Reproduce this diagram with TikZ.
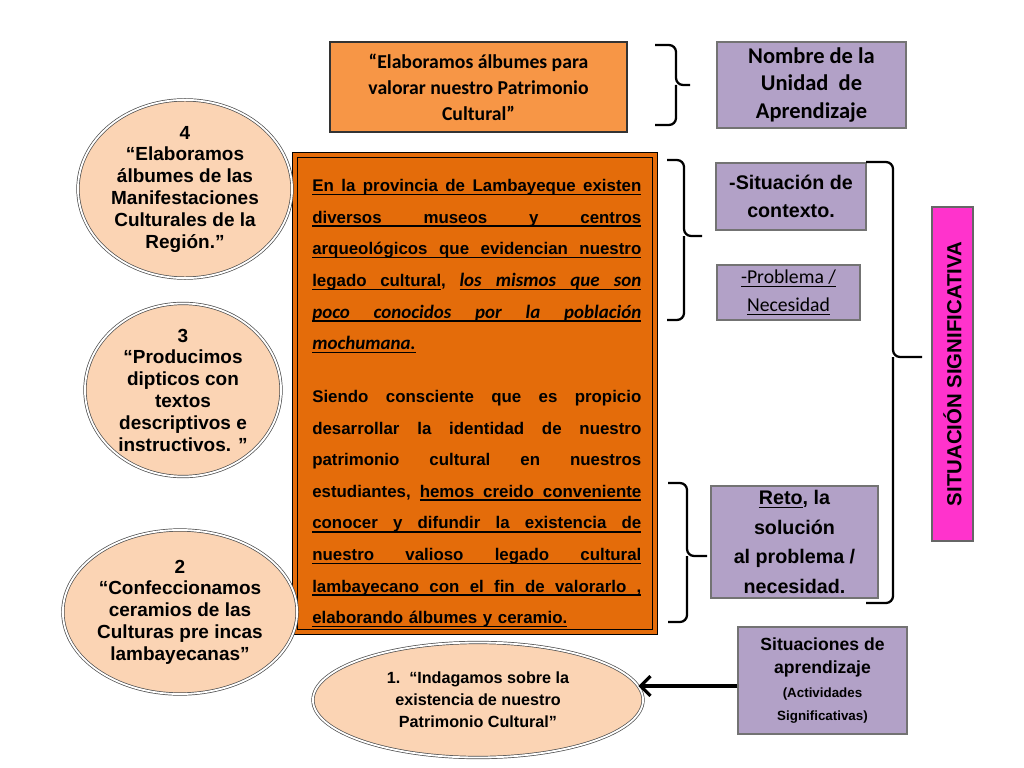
\documentclass[tikz,border=0pt]{standalone}
\usepackage{fontspec}
\setmainfont{Liberation Sans}
\newfontfamily\calibri{Carlito}
\usepackage{tikz}
\usetikzlibrary{arrows.meta, shapes.geometric}
\definecolor{naranja}{RGB}{247,150,70}
\definecolor{naranjaosc}{RGB}{228,108,10}
\definecolor{lila}{RGB}{178,161,199}
\definecolor{durazno}{RGB}{251,212,180}
\definecolor{fucsia}{RGB}{255,51,204}
\newlength{\anchotexto}\setlength{\anchotexto}{8.225cm}
\newsavebox{\cajapal}
% subrayado de palabras y de lineas completas
\newcommand{\uw}[1]{\leavevmode\sbox{\cajapal}{#1}\rlap{\vrule height -1.5pt depth 2.5pt width \wd\cajapal}\usebox{\cajapal}}
\newcommand{\us}{\leaders\hrule height -1.5pt depth 2.5pt\hskip .3em plus 1fil\relax}
\newcommand{\ns}{\hskip .3em plus 1fil\relax}
\newcommand{\jl}[1]{\leavevmode\hbox to \anchotexto{\spaceskip=.3em plus 1fil\relax #1}}
\newcommand{\lineamix}[1]{\leavevmode\hbox to \anchotexto{#1}}
\newcommand{\lineasub}[1]{\leavevmode\rlap{\vrule height -1.5pt depth 2.5pt width \anchotexto}\jl{#1}}
\newcommand{\cursiva}{\calibri\itshape\fontsize{13.5}{22.5}\selectfont}

\begin{document}
\begin{tikzpicture}[x=0.025cm, y=-0.025cm,
  caja/.style={rectangle, fill=lila, draw=black!55, line width=0.8pt, align=center, inner sep=0pt},
  burbuja/.style={ellipse, fill=durazno, draw=black!70, line width=0.5pt, double=white, double distance=1.3pt, align=center, inner sep=0pt, font=\bfseries\fontsize{13.5}{15.5}\selectfont},
  llave/.style={line width=1.6pt, rounded corners=5pt}]
\useasboundingbox (0,0) rectangle (1024,768);
% titulo de la unidad
\node[rectangle, fill=naranja, draw=black!80, line width=1.5pt, minimum width=7.425cm, minimum height=2.25cm, align=center, inner sep=0pt, font=\calibri\bfseries\fontsize{14}{18.5}\selectfont] (titulo) at (478.5,87) {“Elaboramos álbumes para\\valorar nuestro Patrimonio\\Cultural”};
\node[caja, minimum width=4.725cm, minimum height=2.15cm, font=\calibri\bfseries\fontsize{16}{19.5}\selectfont] (nombre) at (811.5,85) {Nombre de la\\Unidad\ \ de\\Aprendizaje};
\draw[llave] (655,45) -| (676,85) -- (690,85);
\draw[llave] (655,125) -| (676,85);
% situacion significativa
\node[rectangle, fill=naranjaosc, draw=black, line width=1pt, double=naranjaosc, double distance=2.5pt, minimum width=9cm, minimum height=11.925cm] (situacion) at (475,393.5) {};
\node[anchor=north west, text width=8.225cm, align=left, inner sep=0pt, font=\bfseries\fontsize{12}{22.5}\selectfont] (texto) at (312,179) {%
\lineasub{En la provincia de Lambayeque existen}\\
\lineasub{diversos museos y centros}\\
\lineasub{arqueológicos que evidencian nuestro}\\
\lineamix{\uw{legado}\us\uw{cultural},\ns{\cursiva\uw{los}\us\uw{mismos}\us\uw{que}\us\uw{son}}}\\
\lineasub{\cursiva poco conocidos por la población}\\
{\cursiva\uw{mochumana.}}\\[15pt]
\jl{Siendo consciente que es propicio}\\
\jl{desarrollar la identidad de nuestro}\\
\jl{patrimonio cultural en nuestros}\\
\lineamix{estudiantes,\ns\uw{hemos}\us\uw{creido}\us\uw{conveniente}}\\
\lineasub{conocer y difundir la existencia de}\\
\lineasub{nuestro valioso legado cultural}\\
\lineasub{lambayecano con el fin de valorarlo ,}\\
\uw{elaborando álbumes y ceramio.}};
\node[caja, minimum width=3.75cm, minimum height=1.675cm, font=\bfseries\fontsize{14}{20}\selectfont] (contexto) at (791,196.5) {-Situación de\\contexto.};
\node[caja, minimum width=3.575cm, minimum height=1.375cm, font=\calibri\fontsize{14}{20}\selectfont] (problema) at (788.5,292.5) {\uw{-Problema /}\\\uw{Necesidad}};
\draw[llave] (667,160) -| (684,236) -- (702,236);
\draw[llave] (667,320) -| (684,236);
\node[caja, minimum width=4.175cm, minimum height=2.8cm, font=\bfseries\fontsize{14}{21}\selectfont] (reto) at (794.5,542) {\uw{Reto}, la\\solución\\al problema /\\necesidad.};
\draw[llave] (668,483) -| (687,556) -- (707,556);
\draw[llave] (668,622) -| (687,556);
\draw[llave] (866,162) -| (893,357) -- (922,357);
\draw[llave] (866,603) -| (893,357);
\node[rectangle, fill=fucsia, draw=black!60, line width=0.8pt, rotate=90, minimum width=8.35cm, minimum height=1.025cm, inner sep=0pt, font=\bfseries\fontsize{14.5}{17}\selectfont] (sitsig) at (952.5,374) {SITUACIÓN SIGNIFICATIVA};
% actividades
\node[burbuja, minimum width=5.35cm, minimum height=4.05cm] (act4) at (185,189) {4\\“Elaboramos\\álbumes de las\\Manifestaciones\\Culturales de la\\Región."};
\node[burbuja, minimum width=4.9cm, minimum height=4.3cm] (act3) at (183,390) {3\\“Producimos\\dipticos con\\textos\\descriptivos e\\instructivos. "};
\node[burbuja, minimum width=5.6cm, minimum height=4.1cm] (act2) at (180,612) {2\\“Confeccionamos\\ceramios de las\\Culturas pre incas\\lambayecanas"};
\node[burbuja, minimum width=8.25cm, minimum height=2.875cm, font=\bfseries\fontsize{11.5}{15.5}\selectfont] (act1) at (478,700) {1.\ \ “Indagamos sobre la\\existencia de nuestro\\Patrimonio Cultural"};
\node[caja, minimum width=4.225cm, minimum height=2.675cm, font=\bfseries\fontsize{12.5}{16.5}\selectfont] (aprendizaje) at (822.5,680.5) {Situaciones de\\aprendizaje\\{\fontsize{9.5}{11}\selectfont (Actividades}\\{\fontsize{9.5}{11}\selectfont Significativas)}};
\draw[line width=2.2pt, -{Straight Barb[length=7pt, width=14pt]}] (aprendizaje.west |- act1.5) -- (act1.5);
\end{tikzpicture}
\end{document}
